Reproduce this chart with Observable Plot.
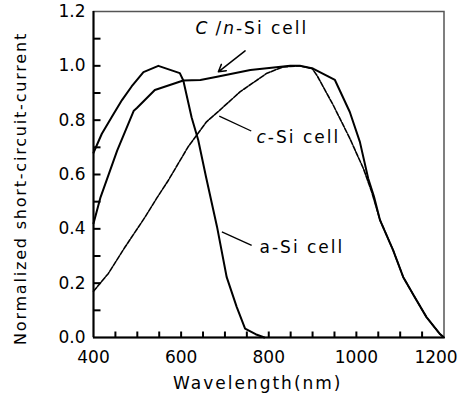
<!DOCTYPE html>
<html><head><meta charset="utf-8">
<script src="https://cdn.jsdelivr.net/npm/d3@7"></script>
<script src="https://cdn.jsdelivr.net/npm/@observablehq/plot@0.6"></script>
<style>body{margin:0;background:#fff}</style>
</head><body><div id="chart"></div>
<script>
// a-Si cell
const aSiWavelength = [400, 419, 442, 465, 487, 514, 548, 597, 605, 624, 639, 657, 682, 704, 727, 746, 770, 790];
const aSiValue      = [0.68, 0.75, 0.813, 0.874, 0.924, 0.977, 1.0, 0.973, 0.946, 0.81, 0.727, 0.59, 0.407, 0.222, 0.112, 0.033, 0.012, 0.0];
// C/n-Si cell
const cnSiWavelength = [400, 416, 454, 492, 499, 540, 605, 644, 682, 758, 849, 871, 901, 951, 985, 1008, 1027, 1040, 1054, 1084, 1107, 1133, 1160, 1190, 1200];
const cnSiValue      = [0.42, 0.516, 0.688, 0.835, 0.845, 0.911, 0.946, 0.948, 0.96, 0.985, 1.0, 1.0, 0.99, 0.948, 0.83, 0.72, 0.585, 0.52, 0.432, 0.321, 0.222, 0.149, 0.075, 0.014, 0.0];
// c-Si cell
const cSiWavelength = [400, 434, 472, 518, 544, 571, 616, 658, 689, 735, 796, 833, 870, 899, 910, 947, 985, 1016, 1035, 1054, 1084, 1107, 1133, 1160, 1190, 1200];
const cSiValue      = [0.17, 0.236, 0.333, 0.444, 0.512, 0.579, 0.702, 0.794, 0.838, 0.905, 0.973, 0.996, 1.0, 0.99, 0.965, 0.856, 0.733, 0.622, 0.536, 0.432, 0.321, 0.222, 0.149, 0.075, 0.014, 0.0];

// axis ticks and labels
const xTickLabels = [400, 600, 800, 1000, 1200];
const xMinorTicks = [450, 500, 550, 600, 650, 700, 750, 800, 850, 900, 950, 1000, 1050, 1100, 1150];
const yTickLabels = [0.0, 0.2, 0.4, 0.6, 0.8, 1.0, 1.2];
const yMinorTicks = [0.1, 0.2, 0.3, 0.4, 0.5, 0.6, 0.7, 0.8, 0.9, 1.0, 1.1];
const xLabel = "Wavelength(nm)";
const yLabel = "Normalized short-circuit-current";

// annotations
const labelText = ["C/n-Si cell", "c-Si cell", "a-Si cell"];
const labelX = [633, 772, 779];
const labelY = [1.137, 0.736, 0.331];
const leaderX1 = [687, 693];
const leaderY1 = [0.815, 0.389];
const leaderX2 = [760, 761];
const leaderY2 = [0.76, 0.339];
const arrowFrom = [746, 1.055];
const arrowTo = [685, 0.978];

const toRows = (w, v) => w.map((d, i) => ({w: d, v: v[i]}));
const labels = labelText.map((t, i) => ({t, x: labelX[i], y: labelY[i]}));
const leaders = leaderX1.map((d, i) => ({x1: d, y1: leaderY1[i], x2: leaderX2[i], y2: leaderY2[i]}));
const xTicks = xMinorTicks.map(d => ({x: d}));
const yTicks = yMinorTicks.map(d => ({y: d}));
const lastX = xTickLabels[xTickLabels.length - 1];

const W = 458, H = 398, ML = 93, MR = 14.5, MT = 11, MB = 61;
const xDomain = [400, 1200], yDomain = [0, 1.2];
const frameW = W - ML - MR, frameH = H - MT - MB;
// inward tick lengths (pixels) converted to data units
const xTickLen = 6 * (yDomain[1] - yDomain[0]) / frameH;
const yTickLen = 7 * (xDomain[1] - xDomain[0]) / frameW;

const chart = Plot.plot({
  width: W, height: H,
  marginLeft: ML, marginRight: MR, marginTop: MT, marginBottom: MB,
  style: {fontFamily: "DejaVu Sans", fontSize: "17px", background: "white", color: "black", overflow: "visible"},
  x: {domain: xDomain},
  y: {domain: yDomain},
  marks: [
    Plot.frame({stroke: "#555", strokeWidth: 1.5}),
    Plot.ruleX([400], {strokeWidth: 2}),
    Plot.ruleY([0], {strokeWidth: 2}),
    Plot.link(xTicks, {x1: "x", x2: "x", y1: () => yDomain[0], y2: () => yDomain[0] + xTickLen, stroke: "black", strokeWidth: 2}),
    Plot.link(yTicks, {y1: "y", y2: "y", x1: () => xDomain[0], x2: () => xDomain[0] + yTickLen, stroke: "black", strokeWidth: 2}),
    Plot.axisX(xTickLabels.filter(d => d !== lastX), {tickSize: 0, tickPadding: 13, fontSize: 17, tickFormat: d => String(d), label: null}),
    Plot.axisX([lastX], {tickSize: 0, tickPadding: 13, fontSize: 17, tickFormat: d => String(d), dx: -8, label: null}),
    Plot.axisY(yTickLabels, {tickSize: 0, tickPadding: 8, tickFormat: d3.format(".1f"), fontSize: 17, label: null}),
    Plot.line(toRows(cSiWavelength, cSiValue), {x: "w", y: "v", stroke: "black", strokeWidth: 1.6, strokeDasharray: "5,1.5"}),
    Plot.line(toRows(cnSiWavelength, cnSiValue), {x: "w", y: "v", stroke: "black", strokeWidth: 2}),
    Plot.line(toRows(aSiWavelength, aSiValue), {x: "w", y: "v", stroke: "black", strokeWidth: 2}),
    Plot.link(leaders, {x1: "x1", y1: "y1", x2: "x2", y2: "y2", stroke: "black", strokeWidth: 1.3}),
    Plot.arrow([0], {x1: () => arrowFrom[0], y1: () => arrowFrom[1], x2: () => arrowTo[0], y2: () => arrowTo[1], stroke: "black", strokeWidth: 1.5, headLength: 8, insetEnd: 0}),
    Plot.text(labels, {x: "x", y: "y", text: "t", textAnchor: "start", fontSize: 17, fill: "black"}),
    Plot.text([yLabel], {text: d => d, frameAnchor: "left", textAnchor: "middle", rotate: -90, dx: -73, dy: 14, fontSize: 16, fill: "black"}),
    Plot.text([xLabel], {text: d => d, frameAnchor: "bottom", textAnchor: "middle", dx: -11, dy: 51, fontSize: 17, fill: "black"})
  ]
});
document.getElementById("chart").appendChild(chart);

// typography touches: letter spacing and italic letters
const svg = d3.select(chart.tagName === "svg" ? chart : chart.querySelector("svg"));
svg.selectAll("text").each(function() {
  const s = this.textContent;
  const el = d3.select(this);
  if (labelText.includes(s) || s === xLabel) el.style("letter-spacing", "2px");
  if (s === yLabel) el.style("letter-spacing", "1.8px");
  if (s === "C/n-Si cell") {
    el.text(null);
    el.append("tspan").attr("font-style", "italic").text("C");
    el.append("tspan").attr("dx", 6).text("/");
    el.append("tspan").attr("font-style", "italic").text("n");
    el.append("tspan").text("-Si cell");
  }
  if (s === "c-Si cell") {
    el.text(null);
    el.append("tspan").attr("font-style", "italic").text("c");
    el.append("tspan").text("-Si cell");
  }
});
</script>
</body></html>
